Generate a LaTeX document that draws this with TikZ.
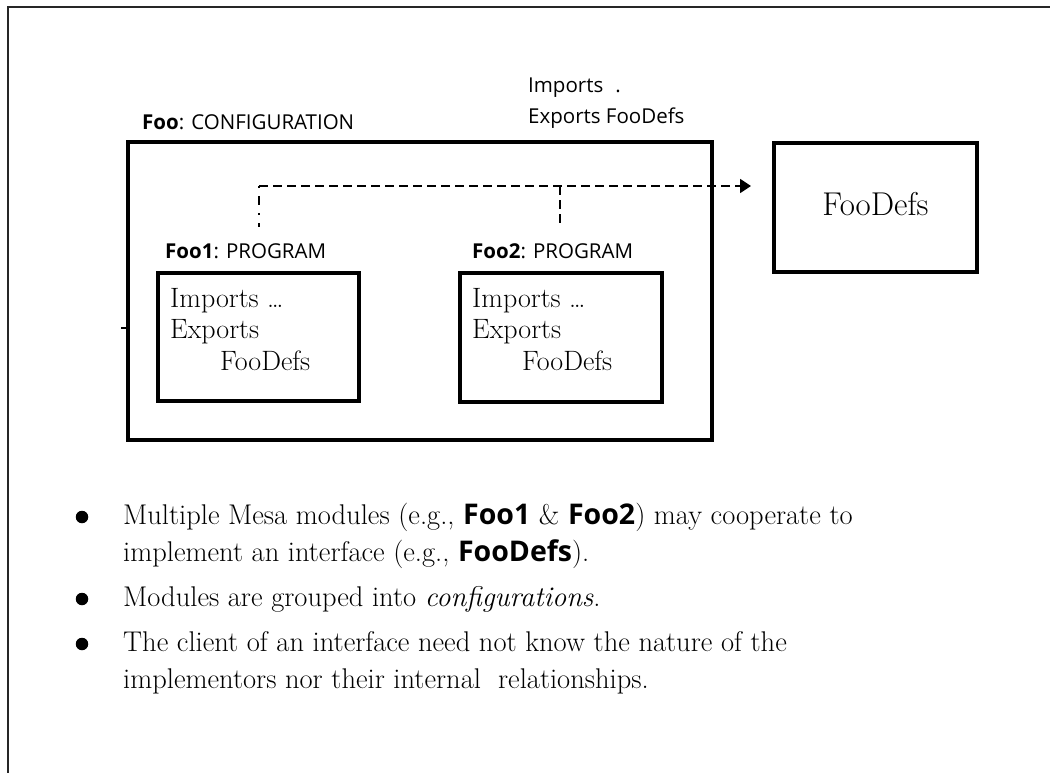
\documentclass[tikz,border=0pt]{standalone}
\usepackage{fontspec}
\setsansfont{Open Sans}
\usetikzlibrary{arrows.meta}
\newcommand{\modname}[1]{{\sffamily\bfseries #1}}
\begin{document}
\begin{tikzpicture}[x=1pt,y=-1pt,
		modbox/.style={draw,line width=4pt,inner sep=0pt},
		sflabel/.style={font=\fontsize{20.5}{24}\sffamily,anchor=base west,inner sep=0pt},
		boxtext/.style={font=\fontsize{28}{31.5}\selectfont,align=left,anchor=north west,inner sep=0pt},
		bullettext/.style={font=\fontsize{28.5}{37}\selectfont,align=left,anchor=north west,inner sep=0pt},
		bdot/.style={circle,fill,inner sep=0pt,minimum size=12.5pt},
		dashline/.style={line width=1.8pt,dash pattern=on 9pt off 5pt},
		dotline/.style={line width=1.5pt,dash pattern=on 2pt off 8pt on 9pt off 8pt}]
	\useasboundingbox (0,0) rectangle (1050,773);
	\draw[line width=1.2pt,black!85] (1050,7) -- (8,7) -- (8,773);
	
	\node[modbox,minimum width=584pt,minimum height=297pt] (foo) at (420,291) {};
	\node[modbox,minimum width=203pt,minimum height=129pt,font=\fontsize{33}{38}\selectfont] (fooDefs) at (875.5,207.5) {\raisebox{8pt}{FooDefs}};
	\node[modbox,minimum width=201pt,minimum height=128pt] (foo1) at (258.5,337) {};
	\node[modbox,minimum width=202pt,minimum height=129pt] (foo2) at (561,337.5) {};
	
	\node[boxtext] (foo1Txt) at (170,287.9) {Imports \ldots\\Exports\\\hspace*{50pt}FooDefs};
	\node[boxtext] (foo2Txt) at (472,287.9) {Imports \ldots\\Exports\\\hspace*{50pt}FooDefs};
	
	\node[sflabel] (fooLbl) at (142,130) {\textbf{Foo}: CONFIGURATION};
	\node[sflabel] (foo1Lbl) at (165,258) {\textbf{Foo1}: PROGRAM};
	\node[sflabel] (foo2Lbl) at (472,258) {\textbf{Foo2}: PROGRAM};
	\node[sflabel] (impLbl) at (528,93) {Imports\hspace{12pt}.};
	\node[sflabel] (expLbl) at (528,124) {Exports FooDefs};
	
	\coordinate (j1) at (259,186);
	\coordinate (j2) at (560,186);
	\draw[dashline,-{Triangle[length=11pt,width=14pt]},shorten >=21pt] (j1) -- (j1 -| fooDefs.west);
	\draw[dotline,shorten >=16pt] (j1) -- (j1 |- foo1Lbl.north);
	\draw[dashline,shorten >=16pt] (j2) -- (j2 |- foo2Lbl.north);
	\draw[line width=1.5pt] (foo.west |- 0,328) -- ++(-5,0);
	
	\node[bdot] (d1) at (82,517) {};
	\node[bdot] (d2) at (82,599) {};
	\node[bdot] (d3) at (82,644) {};
	\node[bullettext] (b1) at (123,502.6) {Multiple Mesa modules (e.g., \modname{Foo1} \& \modname{Foo2}) may cooperate to\\implement an interface (e.g., \modname{FooDefs}).};
	\node[bullettext] (b2) at (123,586) {Modules are grouped into \textit{configurations}.};
	\node[bullettext] (b3) at (123,631) {The client of an interface need not know the nature of the\\implementors nor their internal\ \ relationships.};
\end{tikzpicture}
\end{document}
